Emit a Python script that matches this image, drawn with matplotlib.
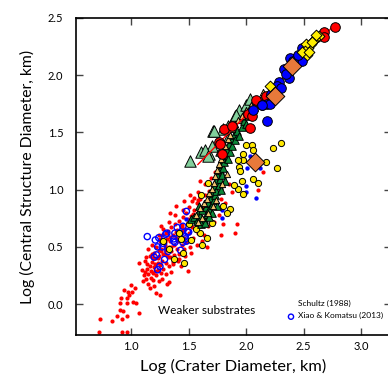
import numpy as np
import matplotlib
matplotlib.use("Agg")
from matplotlib import pyplot as plt

plt.rcParams["font.family"] = ["Lato", "DejaVu Sans"]

# weaker substrates (small red dots)
red_small_x = [0.73, 0.72, 0.83, 0.88, 0.90, 0.92, 0.93, 0.96, 0.92, 0.96, 0.90, 0.91, 0.96, 0.96, 0.97, 1.01,
               1.02, 1.04, 1.07, 0.98, 0.94, 1.00, 1.03, 1.07,
               1.10, 1.11, 1.12, 1.13, 1.14, 1.15, 1.15, 1.16, 1.17, 1.17, 1.18, 1.19, 1.19, 1.20, 1.20, 1.21,
               1.22, 1.22, 1.23, 1.23, 1.24, 1.25, 1.25, 1.26, 1.27, 1.27, 1.28, 1.29, 1.30, 1.30, 1.31, 1.33,
               1.33, 1.34, 1.12, 1.09, 1.13, 1.16, 1.18, 1.26, 1.35, 1.36, 1.49,
               1.20, 1.22, 1.24, 1.25, 1.26, 1.27, 1.28, 1.29, 1.30, 1.31, 1.32, 1.32, 1.33, 1.34, 1.35, 1.35,
               1.36, 1.37, 1.37, 1.38, 1.39, 1.40, 1.40, 1.41, 1.42, 1.42, 1.43, 1.44, 1.44, 1.45, 1.46, 1.46,
               1.47, 1.48, 1.48, 1.49, 1.50, 1.50, 1.51, 1.52, 1.53, 1.53, 1.54, 1.55, 1.56, 1.57, 1.58, 1.59,
               1.60, 1.61, 1.62, 1.63, 1.64, 1.65, 1.66, 1.67, 1.68, 1.70, 1.71, 1.72, 1.74, 1.76, 1.78, 1.80,
               1.82, 1.85, 1.88, 1.55, 1.45, 1.38, 1.33, 1.28, 1.24, 1.18, 1.15, 1.21, 1.36, 1.41, 1.47, 1.52,
               1.57, 1.62, 1.43, 1.30, 1.26, 1.39, 1.34, 1.46, 1.51, 1.58, 1.64, 1.69, 1.73, 1.60, 1.90, 1.92,
               2.15, 2.10, 1.78, 1.66, 1.58, 1.60, 1.25, 1.42, 1.23, 1.29,
               1.14, 1.19, 1.24, 1.29, 1.34, 1.39, 1.44, 1.49, 1.54, 1.59, 1.35, 1.40, 1.45, 1.31, 1.21, 1.16]
red_small_y = [-0.13, -0.24, -0.15, -0.10, -0.05, -0.13, -0.06, -0.10, -0.24, -0.24, 0.01, 0.05, 0.01, 0.05, 0.11, 0.11,
               0.02, 0.01, -0.08, 0.08, 0.12, 0.17, 0.14, 0.36,
               0.20, 0.25, 0.28, 0.22, 0.31, 0.18, 0.26, 0.33, 0.23, 0.29, 0.37, 0.21, 0.27, 0.32, 0.16, 0.35,
               0.10, 0.25, 0.30, 0.40, 0.20, 0.08, 0.34, 0.27, 0.38, 0.22, 0.31, 0.44, 0.26, 0.36, 0.18, 0.19,
               0.33, 0.41, 0.38, 0.30, 0.41, 0.14, 0.44, 0.46, 0.28, 0.37, 0.29,
               0.45, 0.50, 0.42, 0.55, 0.48, 0.60, 0.44, 0.52, 0.47, 0.57, 0.41, 0.64, 0.50, 0.55, 0.46, 0.67,
               0.60, 0.52, 0.43, 0.70, 0.58, 0.48, 0.65, 0.55, 0.73, 0.44, 0.61, 0.52, 0.69, 0.76, 0.58, 0.48,
               0.66, 0.80, 0.54, 0.71, 0.62, 0.85, 0.50, 0.77, 0.67, 0.90, 0.58, 0.82, 0.72, 0.88, 0.62, 0.78,
               0.92, 0.68, 0.85, 0.60, 0.95, 0.75, 0.88, 0.68, 0.99, 0.78, 1.02, 0.72, 0.84, 0.78, 0.92, 0.70,
               0.88, 1.05, 0.98, 0.93, 0.82, 0.78, 0.72, 0.66, 0.60, 0.52, 0.48, 0.40, 0.35, 0.38, 0.42, 0.45,
               0.52, 0.55, 0.33, 0.62, 0.68, 0.86, 0.80, 0.90, 0.95, 0.98, 1.05, 1.10, 1.15, 1.08, 0.62, 0.70,
               1.15, 1.00, 0.60, 0.50, 0.91, 0.94, 0.57, 0.39, 0.36, 0.49,
               0.35, 0.40, 0.47, 0.54, 0.59, 0.63, 0.67, 0.74, 0.79, 0.84, 0.50, 0.57, 0.64, 0.43, 0.29, 0.42]

# Xiao & Komatsu (2013) open blue circles
blue_open_x = [1.14, 1.21, 1.23, 1.22, 1.23, 1.29, 1.31, 1.37, 1.40, 1.45, 1.42, 1.38, 1.47, 1.50, 1.45,
               1.43, 1.48, 1.28, 1.27, 1.25, 1.48, 1.49, 1.38, 1.30, 1.24, 1.20, 1.32, 1.37, 1.47]
blue_open_y = [0.59, 0.56, 0.50, 0.43, 0.30, 0.39, 0.62, 0.57, 0.67, 0.68, 0.62, 0.54, 0.59, 0.63, 0.54,
               0.47, 0.55, 0.53, 0.50, 0.33, 0.81, 0.63, 0.62, 0.61, 0.58, 0.41, 0.46, 0.55, 0.57]

# small blue filled dots
blue_small_x = [2.05, 1.96, 2.03, 2.01, 2.12, 2.00, 2.00, 2.09, 1.79, 1.79, 1.48, 1.75]
blue_small_y = [1.38, 1.30, 1.29, 1.19, 1.19, 1.03, 0.98, 0.93, 0.82, 0.75, 0.74, 0.88]

# yellow circles
yellow_c_x = [1.28, 1.33, 1.37, 1.42, 1.43, 1.45, 1.46, 1.50, 1.52, 1.55, 1.58, 1.62, 1.66, 1.60,
              2.30, 2.23, 2.17, 2.27, 2.05, 2.00, 2.06, 1.97, 1.94, 1.95, 2.06, 2.10, 1.97, 1.97,
              1.93, 1.89, 1.67, 1.69, 1.61, 1.80, 1.70, 1.59, 1.56, 1.63, 1.68, 1.96, 1.93, 1.86, 1.83]
yellow_c_y = [0.55, 0.48, 0.39, 0.62, 0.57, 0.45, 0.36, 0.70, 0.56, 0.75, 0.69, 0.52, 0.58, 0.62,
              1.41, 1.36, 1.24, 1.19, 1.39, 1.39, 1.35, 1.26, 1.20, 1.16, 1.09, 1.06, 0.96, 1.31,
              1.01, 1.04, 1.06, 0.95, 0.95, 0.86, 0.71, 0.76, 0.66, 0.71, 0.79, 1.08, 1.26, 0.83, 0.80]

# dark green triangles
green_t_x = [1.52, 1.55, 1.57, 1.58, 1.60, 1.62, 1.63, 1.65, 1.66, 1.67, 1.68, 1.69, 1.70, 1.71, 1.72,
             1.72, 1.73, 1.74, 1.74, 1.75, 1.76, 1.77, 1.77, 1.78, 1.79, 1.80, 1.80, 1.81, 1.82, 1.83,
             1.84, 1.85, 1.86, 1.87, 1.88, 1.89, 1.90, 1.92, 1.94, 1.96, 1.98, 2.00, 2.02, 2.05, 2.07,
             2.10, 1.61, 1.64, 1.70, 1.78, 1.82, 1.68, 1.75, 1.59, 2.15]
green_t_y = [0.74, 0.76, 0.73, 0.80, 0.77, 0.82, 0.74, 0.85, 0.79, 0.88, 0.83, 0.93, 0.87, 0.97, 0.91,
             1.03, 0.95, 1.08, 0.99, 1.13, 1.04, 1.17, 1.09, 1.22, 1.13, 1.27, 1.19, 1.24, 1.30, 1.35,
             1.27, 1.40, 1.33, 1.44, 1.38, 1.48, 1.43, 1.51, 1.47, 1.55, 1.60, 1.57, 1.64, 1.68, 1.72,
             1.76, 0.70, 0.71, 0.80, 1.00, 1.08, 0.76, 0.86, 0.86, 1.83]

# tan triangles
tan_t_x = [1.56, 1.60, 1.63, 1.66, 1.68, 1.70, 1.72, 1.73, 1.75, 1.76, 1.78, 1.80, 1.82, 1.84, 1.86,
           1.88, 1.90, 1.93, 1.96, 2.00, 2.04, 1.67, 1.71, 1.74, 1.79, 1.83, 1.62, 1.58, 2.15, 2.18]
tan_t_y = [0.78, 0.84, 0.88, 0.92, 0.97, 1.01, 1.06, 1.12, 1.17, 1.22, 1.27, 1.33, 1.38, 1.44, 1.48,
           1.53, 1.57, 1.61, 1.64, 1.70, 1.74, 0.80, 0.86, 0.91, 1.05, 1.14, 0.75, 0.72, 1.85, 1.81]

# light green triangles
mint_t_x = [1.51, 1.61, 1.68, 1.71, 1.85, 1.90, 1.95, 1.94, 2.00, 2.03, 1.84, 1.80, 1.70, 1.64, 1.67,
            1.72, 1.91, 1.78]
mint_t_y = [1.25, 1.33, 1.31, 1.51, 1.47, 1.64, 1.66, 1.70, 1.74, 1.79, 1.56, 1.53, 1.38, 1.35, 1.29,
            1.51, 1.65, 1.35]

# red circles
red_big_x = [2.77, 2.68, 2.68, 2.43, 2.48, 2.09, 2.14, 2.02, 2.05, 1.81, 1.88, 1.76, 1.77, 1.79, 2.03, 2.17]
red_big_y = [2.42, 2.38, 2.33, 2.15, 2.14, 1.78, 1.74, 1.66, 1.64, 1.53, 1.56, 1.42, 1.40, 1.31, 1.54, 1.82]

# blue circles
blue_big_x = [2.49, 2.49, 2.38, 2.33, 2.37, 2.29, 2.27, 2.22, 2.18, 2.21, 2.14, 2.06, 2.18, 2.30, 2.41,
              2.45, 2.35]
blue_big_y = [2.24, 2.12, 2.15, 2.05, 1.98, 1.94, 1.91, 1.84, 1.75, 1.75, 1.74, 1.70, 1.60, 1.89, 2.12,
              2.18, 2.01]

# yellow diamonds
yellow_d_x = [2.63, 2.60, 2.58, 2.56, 2.54, 2.52, 2.51, 2.53, 2.49, 2.55, 2.21, 2.61, 2.57]
yellow_d_y = [2.34, 2.32, 2.30, 2.27, 2.24, 2.27, 2.21, 2.18, 2.20, 2.20, 1.91, 2.35, 2.29]

# orange diamonds
orange_d_x = [2.08, 2.25, 2.40]
orange_d_y = [1.24, 1.82, 2.08]

# trend line
line_x = [1.58, 2.75]
line_y = [1.22, 2.42]

fig = plt.figure(figsize=(3.88, 3.81), dpi=100)
ax = fig.add_axes([76 / 388, 46 / 381, 315 / 388, 317 / 381])

ax.scatter(red_small_x, red_small_y, s=9, c="#ff0000", linewidths=0, zorder=2)
ax.scatter(blue_small_x, blue_small_y, s=10, c="#0000ff", linewidths=0, zorder=2)
ax.scatter(blue_open_x, blue_open_y, s=20, facecolors="none", edgecolors="#0000ff", linewidths=1, zorder=3)
ax.scatter(yellow_c_x, yellow_c_y, s=20, c="#ffe800", edgecolors="black", linewidths=0.7, zorder=3)
ax.scatter(mint_t_x, mint_t_y, s=68, marker="^", c="#82d09c", edgecolors="black", linewidths=0.7, zorder=3)
ax.scatter(green_t_x, green_t_y, s=30, marker="^", c="#0c8a3a", edgecolors="black", linewidths=0.7, zorder=4)
ax.scatter(tan_t_x, tan_t_y, s=20, marker="^", c="#f2c46e", edgecolors="black", linewidths=0.7, zorder=4)
ax.plot(line_x, line_y, color="#ff0000", lw=1, zorder=4.5)
ax.scatter(red_big_x, red_big_y, s=48, c="#ff0000", edgecolors="black", linewidths=0.7, zorder=5)
ax.scatter(blue_big_x, blue_big_y, s=48, c="#0000ff", edgecolors="black", linewidths=0.7, zorder=5)
ax.scatter(yellow_d_x, yellow_d_y, s=30, marker="D", c="#ffee00", edgecolors="black", linewidths=0.7, zorder=6)
ax.scatter(orange_d_x, orange_d_y, s=90, marker="D", c="#e8793a", edgecolors="black", linewidths=0.7, zorder=6)

ax.set_xlim(0.52, 3.26)
ax.set_ylim(-0.27, 2.5)
ax.set_xticks([1.0, 1.5, 2.0, 2.5, 3.0])
ax.set_yticks([0.0, 0.5, 1.0, 1.5, 2.0, 2.5])
ax.set_xticklabels(["1.0", "1.5", "2.0", "2.5", "3.0"])
ax.set_yticklabels(["0.0", "0.5", "1.0", "1.5", "2.0", "2.5"])
ax.tick_params(direction="in", top=True, right=True, length=5, width=1, color="#444444",
               labelsize=8, pad=4)
ax.tick_params(axis="y", pad=9)
for side in ["left", "bottom", "top"]:
    ax.spines[side].set_linewidth(1.2)
ax.spines["right"].set_visible(False)

ax.set_xlabel("Log (Crater Diameter, km)", fontsize=11.8, labelpad=5)
ax.set_ylabel("Log (Central Structure Diameter, km)", fontsize=11.3, labelpad=9)

ax.text(1.235, -0.06, "Weaker substrates", fontsize=8.5, va="center", ha="left")
ax.text(2.45, 0.01, "Schultz (1988)", fontsize=6, va="center", ha="left")
ax.scatter([2.39], [-0.11], s=14, facecolors="none", edgecolors="#0000ff", linewidths=1, zorder=3)
ax.text(2.45, -0.10, "Xiao & Komatsu (2013)", fontsize=6, va="center", ha="left")

fig.savefig("out.png", dpi=100)
